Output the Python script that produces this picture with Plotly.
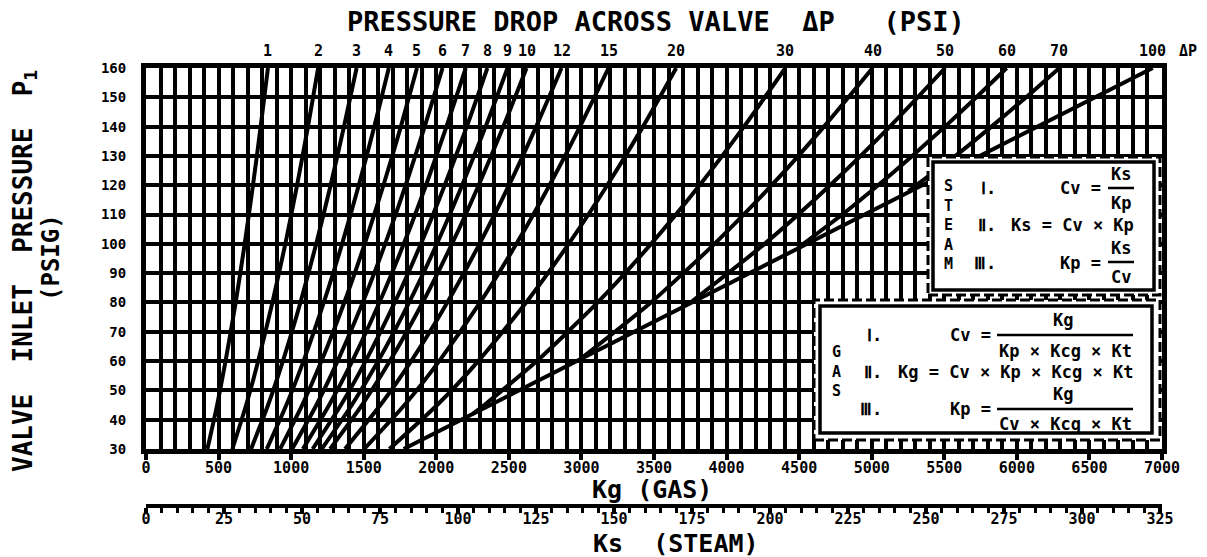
import plotly.graph_objects as go

# ---------------- data ----------------
# Valve inlet pressure P1 (psig) sample points and Kg readings for each pressure-drop curve
p_full = [30, 45, 60, 80, 100, 120, 140, 160]
kg_dp1 = [423, 490, 548, 618, 680, 737, 790, 840]
kg_dp2 = [595, 690, 773, 871, 960, 1041, 1116, 1186]
kg_dp3 = [724, 841, 943, 1064, 1173, 1272, 1364, 1451]
kg_dp4 = [832, 967, 1085, 1225, 1351, 1466, 1573, 1673]
kg_dp5 = [924, 1076, 1209, 1366, 1507, 1636, 1756, 1867]
kg_dp6 = [1007, 1174, 1320, 1493, 1648, 1789, 1920, 2043]
kg_dp7 = [1081, 1262, 1421, 1608, 1776, 1929, 2070, 2203]
kg_dp8 = [1148, 1343, 1513, 1714, 1894, 2058, 2210, 2352]
kg_dp9 = [1211, 1418, 1600, 1813, 2004, 2178, 2340, 2491]
kg_dp10 = [1268, 1488, 1680, 1906, 2108, 2292, 2462, 2622]
kg_dp12 = [1371, 1615, 1827, 2076, 2298, 2501, 2688, 2863]
kg_dp15 = [1503, 1781, 2020, 2302, 2552, 2780, 2990, 3187]
kg_dp20 = [1677, 2006, 2289, 2619, 2912, 3178, 3424, 3653]
p_dp30 = [42, 45, 60, 80, 100, 120, 140, 160]
kg_dp30 = [2251, 2331, 2693, 3112, 3480, 3814, 4120, 4405]
p_dp40 = [61, 80, 100, 120, 140, 160]
kg_dp40 = [3001, 3479, 3917, 4311, 4671, 5006]
p_dp50 = [80, 100, 120, 140, 160]
kg_dp50 = [3752, 4262, 4713, 5125, 5506]
p_dp60 = [99, 110, 120, 130, 140, 150, 160]
kg_dp60 = [4502, 4797, 5044, 5279, 5505, 5721, 5930]
p_dp70 = [118, 130, 140, 150, 160]
kg_dp70 = [5253, 5577, 5825, 6064, 6293]
p_dp100 = [30, 160]
kg_dp100 = [1775, 6936]

dp_labels = ["1", "2", "3", "4", "5", "6", "7", "8", "9", "10", "12", "15",
             "20", "30", "40", "50", "60", "70", "100"]

kg_ticks = [0, 500, 1000, 1500, 2000, 2500, 3000, 3500, 4000, 4500, 5000,
            5500, 6000, 6500, 7000]
p_ticks = [30, 40, 50, 60, 70, 80, 90, 100, 110, 120, 130, 140, 150, 160]
ks_ticks = [0, 25, 50, 75, 100, 125, 150, 175, 200, 225, 250, 275, 300, 325]

curve_p = [p_full] * 13 + [p_dp30, p_dp40, p_dp50, p_dp60, p_dp70, p_dp100]
curve_kg = [kg_dp1, kg_dp2, kg_dp3, kg_dp4, kg_dp5, kg_dp6, kg_dp7, kg_dp8,
            kg_dp9, kg_dp10, kg_dp12, kg_dp15, kg_dp20, kg_dp30, kg_dp40,
            kg_dp50, kg_dp60, kg_dp70, kg_dp100]

# ---------------- page geometry ----------------
W, H = 1207, 557
ML, MR, MT, MB = 146, 45, 68, 51
PLOT_W = W - ML - MR
PAPER_H = H - MT - MB
Y_AXIS_BOTTOM = 449


def xp(px):
    return (px - ML) / PLOT_W


def yp(py):
    return (H - MB - py) / PAPER_H


FONT = "DejaVu Sans Mono"
INK = "black"


def bold(size):
    return dict(family=FONT, size=size, color=INK, weight="bold")


fig = go.Figure()

for ps, ks in zip(curve_p, curve_kg):
    fig.add_trace(go.Scatter(
        x=ks, y=ps, mode="lines",
        line=dict(color=INK, width=4, shape="spline", smoothing=0.6),
        hoverinfo="skip", showlegend=False))

# carrier trace so the steam scale is drawn
fig.add_trace(go.Scatter(
    x=[ks_ticks[0]], y=[p_ticks[0]], xaxis="x2", yaxis="y", mode="markers",
    marker=dict(opacity=0), hoverinfo="skip", showlegend=False))

annotations = []

# pressure-drop labels along the top edge, at each curve's top end
for lab, ks in zip(dp_labels, curve_kg):
    annotations.append(dict(
        x=ks[-1], xref="x", y=yp(51), yref="paper", text=lab,
        showarrow=False, xanchor="center", yanchor="middle", font=bold(15)))
annotations.append(dict(
    x=xp(1188), xref="paper", y=yp(51), yref="paper", text="\u0394P",
    showarrow=False, xanchor="center", yanchor="middle", font=bold(15)))

NB = "\u00a0"
# titles
annotations += [
    dict(x=xp(345), y=yp(22), xref="paper", yref="paper", xanchor="left",
         yanchor="middle", showarrow=False, font=bold(27),
         text="PRESSURE DROP ACROSS VALVE" + NB * 2 + "\u0394P" + NB * 3 + "(PSI)"),
    dict(x=xp(652), y=yp(489), xref="paper", yref="paper", xanchor="center",
         yanchor="middle", showarrow=False, font=bold(25),
         text="Kg" + NB + "(GAS)"),
    dict(x=xp(676), y=yp(543), xref="paper", yref="paper", xanchor="center",
         yanchor="middle", showarrow=False, font=bold(25),
         text="Ks" + NB * 2 + "(STEAM)"),
    dict(x=xp(24), y=yp(271), xref="paper", yref="paper", xanchor="center",
         yanchor="middle", showarrow=False, font=bold(26), textangle=-90,
         text="VALVE" + NB * 2 + "INLET" + NB * 2 + "PRESSURE" + NB * 2 + "P<sub>1</sub>"),
    dict(x=xp(51), y=yp(258), xref="paper", yref="paper", xanchor="center",
         yanchor="middle", showarrow=False, font=bold(24), textangle=-90,
         text="(PSIG)"),
]

shapes = []


def box(x0, y0, x1, y1, ix0, iy0, ix1, iy1):
    shapes.append(dict(type="rect", xref="paper", yref="paper", layer="above",
                       x0=xp(x0), x1=xp(x1), y0=yp(y1), y1=yp(y0),
                       fillcolor="white",
                       line=dict(color=INK, width=3, dash="10px,4px")))
    shapes.append(dict(type="rect", xref="paper", yref="paper", layer="above",
                       x0=xp(ix0), x1=xp(ix1), y0=yp(iy1), y1=yp(iy0),
                       fillcolor="rgba(0,0,0,0)",
                       line=dict(color=INK, width=3.5)))


def bar(x0, x1, y):
    shapes.append(dict(type="line", xref="paper", yref="paper", layer="above",
                       x0=xp(x0), x1=xp(x1), y0=yp(y), y1=yp(y),
                       line=dict(color=INK, width=2.5)))


def txt(x, y, s, anchor="left", size=17):
    annotations.append(dict(x=xp(x), y=yp(y), xref="paper", yref="paper",
                            xanchor=anchor, yanchor="middle", showarrow=False,
                            text=s, font=bold(size)))


# steam formula panel
box(928, 157, 1160, 295, 933, 162, 1154, 290)
txt(948, 225, "S<br>T<br>E<br>A<br>M", "center", 15)
txt(998, 188, "\u2160.", "right")
txt(1058, 188, "Cv =")
txt(1121, 174, "Ks", "center")
bar(1108, 1134, 188)
txt(1121, 203, "Kp", "center")
txt(998, 225, "\u2161.", "right")
txt(1009, 225, "Ks = Cv \u00d7 Kp")
txt(998, 263, "\u2162.", "right")
txt(1058, 263, "Kp =")
txt(1121, 248, "Ks", "center")
bar(1108, 1134, 262)
txt(1121, 277, "Cv", "center")

# gas formula panel
box(814, 300, 1160, 440, 820, 306, 1152, 433)
txt(836, 371, "G<br>A<br>S", "center", 15)
txt(884, 335, "\u2160.", "right")
txt(948, 335, "Cv =")
txt(1063, 320, "Kg", "center")
bar(997, 1133, 335)
txt(1065, 351, "Kp \u00d7 Kcg \u00d7 Kt", "center")
txt(884, 372, "\u2161.", "right")
txt(896, 372, "Kg = Cv \u00d7 Kp \u00d7 Kcg \u00d7 Kt")
txt(884, 409, "\u2162.", "right")
txt(948, 409, "Kp =")
txt(1063, 394, "Kg", "center")
bar(997, 1133, 409)
txt(1065, 424, "Cv \u00d7 Kcg \u00d7 Kt", "center")

fig.update_layout(
    width=W, height=H,
    margin=dict(l=ML, r=MR, t=MT, b=MB, pad=0),
    paper_bgcolor="white", plot_bgcolor="white",
    showlegend=False,
    annotations=annotations, shapes=shapes,
    xaxis=dict(
        range=[kg_ticks[0], kg_ticks[-1]], domain=[0, 1], anchor="y",
        tickmode="array", tickvals=kg_ticks, ticktext=[str(v) for v in kg_ticks],
        ticks="outside", ticklen=6, tickwidth=4, tickcolor=INK,
        ticklabelstandoff=-5,
        tickfont=bold(15),
        showline=True, linewidth=5, linecolor=INK, mirror=True,
        showgrid=True, gridcolor=INK, gridwidth=4, zeroline=False,
        minor=dict(dtick=100, tick0=0, showgrid=True, gridcolor=INK,
                   gridwidth=4, ticks=""),
    ),
    yaxis=dict(
        range=[p_ticks[0], p_ticks[-1]], domain=[yp(Y_AXIS_BOTTOM), 1],
        anchor="x", tickmode="array", tickvals=p_ticks,
        ticktext=[str(v) for v in p_ticks], ticks="", ticklabelstandoff=12,
        tickfont=bold(14),
        showline=True, linewidth=5, linecolor=INK, mirror=True,
        showgrid=True, gridcolor=INK, gridwidth=4, zeroline=False,
    ),
    xaxis2=dict(
        overlaying="x", anchor="free", position=0, side="bottom",
        range=[0, ks_ticks[-1] * PLOT_W / (1160 - ML)],
        tickmode="array", tickvals=ks_ticks, ticktext=[str(v) for v in ks_ticks],
        ticks="outside", ticklen=6, tickwidth=4, tickcolor=INK,
        ticklabelstandoff=-8,
        tickfont=bold(15),
        minor=dict(dtick=5, tick0=0, ticks="outside", ticklen=5, tickwidth=3,
                   tickcolor=INK, showgrid=False),
        showline=True, linewidth=4, linecolor=INK, showgrid=False,
        zeroline=False,
    ),
)

fig.write_html("out.html")
